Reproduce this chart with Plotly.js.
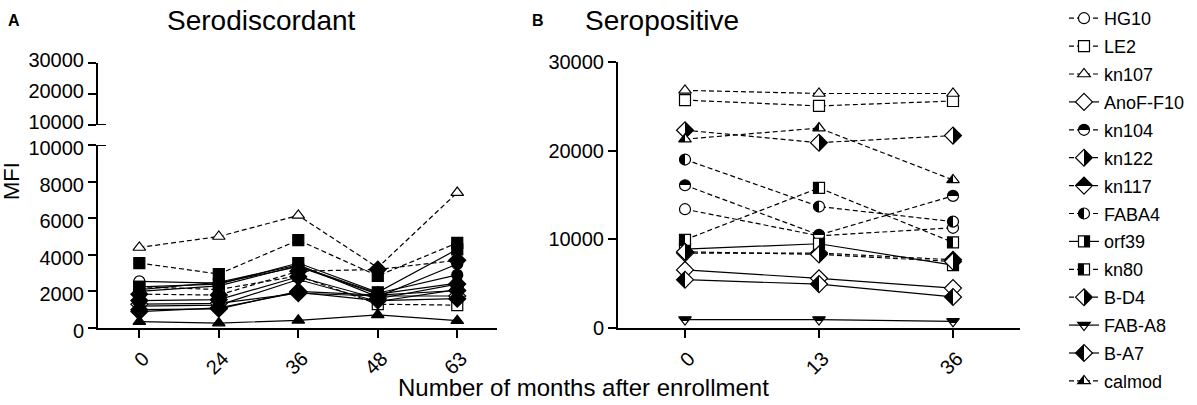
<!DOCTYPE html>
<html>
<head>
<meta charset="utf-8">
<script src="https://cdn.plot.ly/plotly-3.0.1.min.js"></script>
<style>
  html, body { margin: 0; padding: 0; background: #fff; }
  #chart { width: 1197px; height: 405px; }
</style>
</head>
<body>
<div id="chart"></div>
<script>
// antigens, in legend order
const antigens = ["HG10", "LE2", "kn107", "AnoF-F10", "kn104", "kn122", "kn117",
                  "FABA4", "orf39", "kn80", "B-D4", "FAB-A8", "B-A7", "calmod"];

const monthsA = ["0", "24", "36", "48", "63"];
const monthsB = ["0", "13", "36"];

// MFI per antigen (same order as antigens)
const serodiscordantMFI = [
    [2550, 2450, 3350, 1850, 2450],
    [2250, 2100, 2850, 1300, 1250],
    [4400, 5000, 6150, 3300, 7400],
    [1300, 1350, 1900, 1750, 1750],
    [2000, 2300, 3400, 1900, 2900],
    [1850, 1800, 3100, 3200, 3700],
    [1000, 1050, 2000, 1800, 2050],
    [2100, 2500, 3450, 1700, 3500],
    [2250, 2400, 3550, 1950, 4300],
    [3550, 2950, 4800, 2850, 4650],
    [1500, 1550, 2800, 1600, 2400],
    [1200, 1250, 2650, 1450, 2100],
    [900, 1100, 1950, 1500, 1600],
    [350, 270, 420, 720, 400],
];
const seropositiveMFI = [
    [13400, 10400, 11300],
    [25700, 25050, 25600],
    [26800, 26450, 26450],
    [6550, 5600, 4500],
    [16100, 10500, 14900],
    [22300, 20900, 21700],
    [8450, 8450, 7700],
    [19000, 13700, 12000],
    [8900, 9500, 7100],
    [9950, 15800, 9650],
    [8600, 8300, 7500],
    [950, 950, 750],
    [5450, 4950, 3500],
    [21300, 22550, 16700],
];

const ticksA = [0, 2000, 4000, 6000, 8000, 10000];
const ticksAUpper = [10000, 20000, 30000];
const ticksB = [0, 10000, 20000, 30000];

// styles
const symbols = ["circle", "square", "triangle-up", "diamond", "circle", "diamond", "diamond",
                 "circle", "square", "square", "diamond", "triangle-down", "diamond", "triangle-up"];
const halfFill = [null, null, null, null, "top", "right", "top",
                  "left", "right", "left", "right", "top", "left", "left"];
const dashedA = [false, true, true, false, false, true, false, false, false, true, false, false, false, false];
const dashedB = [true, true, true, false, true, true, true, true, false, true, true, false, false, true];

const FONT = "Arial, 'Liberation Sans', sans-serif";
const W = 1197, H = 405;
const px = x => x / W;
const py = y => 1 - y / H;

function markerFor(i, panel) {
    const m = {
        symbol: symbols[i],
        size: symbols[i] === "diamond" ? 13 : 11,
        color: "#fff",
        line: { color: "#000", width: 1.2 },
    };
    const h = halfFill[i];
    if (!h) return m;
    if (panel === "A") { m.color = "#000"; return m; }
    if (h === "top") { m.color = "#000"; m.gradient = { type: "vertical", color: "#fff" }; }
    else if (h === "left") { m.color = "#000"; m.gradient = { type: "horizontal", color: "#fff" }; }
    else { m.color = "#fff"; m.gradient = { type: "horizontal", color: "#000" }; }
    return m;
}

const traces = [];
antigens.forEach((name, i) => {
    traces.push({
        x: monthsA, y: serodiscordantMFI[i],
        xaxis: "x", yaxis: "y",
        type: "scatter", mode: "lines+markers", name,
        legendgroup: name, showlegend: false, cliponaxis: false,
        line: { color: "#000", width: 1.2, dash: dashedA[i] ? "5px,3px" : "solid" },
        marker: markerFor(i, "A"),
    });
});
antigens.forEach((name, i) => {
    traces.push({
        x: monthsB, y: seropositiveMFI[i],
        xaxis: "x2", yaxis: "y2",
        type: "scatter", mode: "lines+markers", name,
        legendgroup: name, cliponaxis: false,
        line: { color: "#000", width: 1.2, dash: dashedB[i] ? "5px,3px" : "solid" },
        marker: markerFor(i, "B"),
    });
});

const axisStyle = {
    showline: true, linecolor: "#000", linewidth: 2,
    ticks: "outside", ticklen: 8, tickwidth: 2, tickcolor: "#000",
    showgrid: false, zeroline: false,
    tickfont: { family: FONT, size: 20, color: "#000" },
};

function note(text, x, y, size, extra) {
    return Object.assign({
        text, x: px(x), y: py(y), xref: "paper", yref: "paper", showarrow: false,
        xanchor: "center", yanchor: "middle", font: { size },
    }, extra || {});
}

const layout = {
    width: W, height: H,
    margin: { l: 0, r: 0, t: 0, b: 0 },
    paper_bgcolor: "#fff", plot_bgcolor: "#fff",
    font: { family: FONT, color: "#000" },
    xaxis: Object.assign({}, axisStyle, {
        type: "category", domain: [px(98), px(497)], range: [-0.52, 4.5],
        anchor: "y", tickangle: -45, ticklabelshift: 4, ticklabelstandoff: 1,
    }),
    yaxis: Object.assign({}, axisStyle, {
        domain: [py(328), py(145)], range: [0, 10000], anchor: "x",
        tickvals: ticksA, ticktext: ticksA.map(String), ticklabelshift: 3,
    }),
    yaxis3: Object.assign({}, axisStyle, {
        domain: [py(125), py(63)], range: [10000, 30000], anchor: "x",
        tickvals: ticksAUpper, ticktext: ticksAUpper.map(String), ticklabelshift: -3,
    }),
    xaxis2: Object.assign({}, axisStyle, {
        type: "category", domain: [px(618), px(1020)], range: [-0.5, 2.5],
        anchor: "y2", tickangle: -45, ticklabelshift: 4, ticklabelstandoff: 1,
    }),
    yaxis2: Object.assign({}, axisStyle, {
        domain: [py(328), py(62)], range: [0, 30000], anchor: "x2",
        tickvals: ticksB, ticktext: ticksB.map(String),
    }),
    showlegend: true,
    legend: {
        x: px(1064), y: 1, xanchor: "left", yanchor: "top",
        font: { family: FONT, size: 18, color: "#000" },
        bgcolor: "rgba(0,0,0,0)", traceorder: "grouped", tracegroupgap: 1.5,
    },
    shapes: [
        // axis break marks
        { type: "line", xref: "x domain", yref: "y3", x0: -0.02, x1: 0.02, y0: 10000, y1: 10000,
          line: { color: "#000", width: 2 } },
        { type: "line", xref: "x domain", yref: "y", x0: -0.02, x1: 0.02, y0: 10000, y1: 10000,
          line: { color: "#000", width: 2 } },
    ],
    annotations: [
        note("<b>A</b>", 14, 20, 16),
        note("<b>B</b>", 538, 20, 16),
        note("Serodiscordant", 261, 20, 28),
        note("Seropositive", 662, 20, 28),
        note("MFI", 12, 181, 22, { textangle: -90 }),
        note("Number of months after enrollment", 583, 387, 24),
    ],
};

const gd = document.getElementById("chart");
Plotly.newPlot(gd, traces, layout, { staticPlot: true }).then(() => {
    // make marker gradients a hard half split (half-filled symbols)
    gd.querySelectorAll("linearGradient").forEach(g => {
        const stops = g.querySelectorAll("stop");
        if (stops.length !== 2) return;
        const a = stops[0].cloneNode(), b = stops[1].cloneNode();
        stops[0].setAttribute("offset", "0");
        a.setAttribute("offset", "0.5");
        b.setAttribute("offset", "0.5");
        stops[1].setAttribute("offset", "1");
        g.insertBefore(a, stops[1]);
        g.insertBefore(b, stops[1]);
    });
});
</script>
</body>
</html>
